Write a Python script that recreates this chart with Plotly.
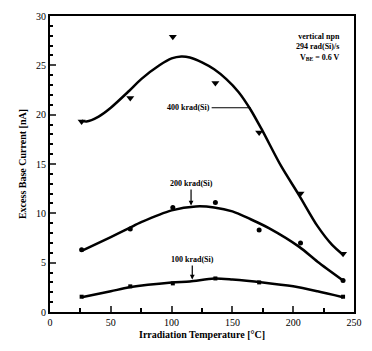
import plotly.graph_objects as go

# Measured data points
x_pts = [26, 66, 101, 136, 172, 206, 241]
y400_pts = [19.3, 21.7, 27.9, 23.2, 18.2, 12.0, 5.9]
y200_pts = [6.3, 8.4, 10.6, 11.1, 8.3, 7.0, 3.2]
x100_pts = [26, 66, 101, 136, 172, 241]
y100_pts = [1.55, 2.6, 2.9, 3.4, 3.0, 1.55]

# Fitted curves
x400_fit = [26, 30, 40, 50, 65, 75, 90, 100, 108, 115, 125, 135, 145, 155, 165, 175, 190, 205, 220, 232, 241]
y400_fit = [19.4, 19.3, 19.8, 20.7, 22.4, 23.6, 25.0, 25.7, 25.9, 25.8, 25.3, 24.6, 23.6, 22.3, 20.5, 18.3, 14.8, 11.8, 8.7, 6.8, 5.8]
x200_fit = [26, 50, 65, 75, 100, 120, 135, 150, 165, 180, 205, 220, 241]
y200_fit = [6.2, 7.6, 8.5, 9.1, 10.3, 10.7, 10.6, 10.2, 9.4, 8.5, 6.6, 5.1, 3.2]
x100_fit = [26, 50, 65, 100, 115, 135, 150, 175, 200, 220, 241]
y100_fit = [1.5, 2.1, 2.5, 3.0, 3.1, 3.4, 3.3, 3.0, 2.6, 2.1, 1.5]

FONT = "Liberation Serif"

fig = go.Figure()
for xf, yf in [(x400_fit, y400_fit), (x200_fit, y200_fit), (x100_fit, y100_fit)]:
    fig.add_trace(go.Scatter(x=xf, y=yf, mode="lines", line=dict(color="black", width=2.5, shape="spline", smoothing=0.8), showlegend=False))

fig.add_trace(go.Scatter(x=x_pts, y=y400_pts, mode="markers", marker=dict(symbol="triangle-down", size=7, color="black"), showlegend=False))
fig.add_trace(go.Scatter(x=x_pts, y=y200_pts, mode="markers", marker=dict(symbol="circle", size=5, color="black"), showlegend=False))
fig.add_trace(go.Scatter(x=x100_pts, y=y100_pts, mode="markers", marker=dict(symbol="square", size=4, color="black"), showlegend=False))

# Annotations
fig.add_annotation(x=165, y=20.7, text="<b>400 krad(Si)</b>", showarrow=True, ax=-62, ay=0,
                   font=dict(family=FONT, size=8, color="black"), arrowhead=0, arrowwidth=1.2, arrowcolor="black",
                   standoff=0)
fig.add_annotation(x=116, y=10.8, text="<b>200 krad(Si)</b>", showarrow=True, ax=0, ay=-22,
                   font=dict(family=FONT, size=8, color="black"), arrowhead=2, arrowsize=0.8, arrowwidth=1.2, arrowcolor="black")
fig.add_annotation(x=117, y=3.3, text="<b>100 krad(Si)</b>", showarrow=True, ax=0, ay=-20,
                   font=dict(family=FONT, size=8, color="black"), arrowhead=2, arrowsize=0.8, arrowwidth=1.2, arrowcolor="black")
fig.add_annotation(x=1.0, y=1.0, xref="x domain", yref="y domain", xanchor="right", yanchor="top", xshift=-12, yshift=-14,
                   text="<b>vertical npn<br>294 rad(Si)/s<br>V<sub>BE</sub> = 0.6 V</b>", showarrow=False, align="right",
                   font=dict(family=FONT, size=8, color="black"))

fig.update_xaxes(range=[0, 250], tickvals=[0, 50, 100, 150, 200, 250], ticks="inside", ticklen=6, tickwidth=1.5,
                 minor=dict(dtick=25, ticks="inside", ticklen=4, tickcolor="black"),
                 showline=True, linewidth=2, linecolor="black", mirror=True, showgrid=False, zeroline=False,
                 tickfont=dict(family=FONT, size=10, color="black"),
                 title=dict(text="<b>Irradiation Temperature [°C]</b>", font=dict(family=FONT, size=10, color="black"), standoff=4))
fig.update_yaxes(range=[0, 30], dtick=5, ticks="inside", ticklen=6, tickwidth=1.5,
                 minor=dict(dtick=1, ticks="inside", ticklen=3, tickcolor="black"),
                 showline=True, linewidth=2, linecolor="black", mirror=True, showgrid=False, zeroline=False,
                 tickfont=dict(family=FONT, size=10, color="black"),
                 title=dict(text="<b>Excess Base Current [nA]</b>", font=dict(family=FONT, size=10, color="black"), standoff=8))
fig.update_layout(width=372, height=351, margin=dict(l=50, r=10, t=14, b=39), plot_bgcolor="white", paper_bgcolor="white")
fig.write_html("out.html")
